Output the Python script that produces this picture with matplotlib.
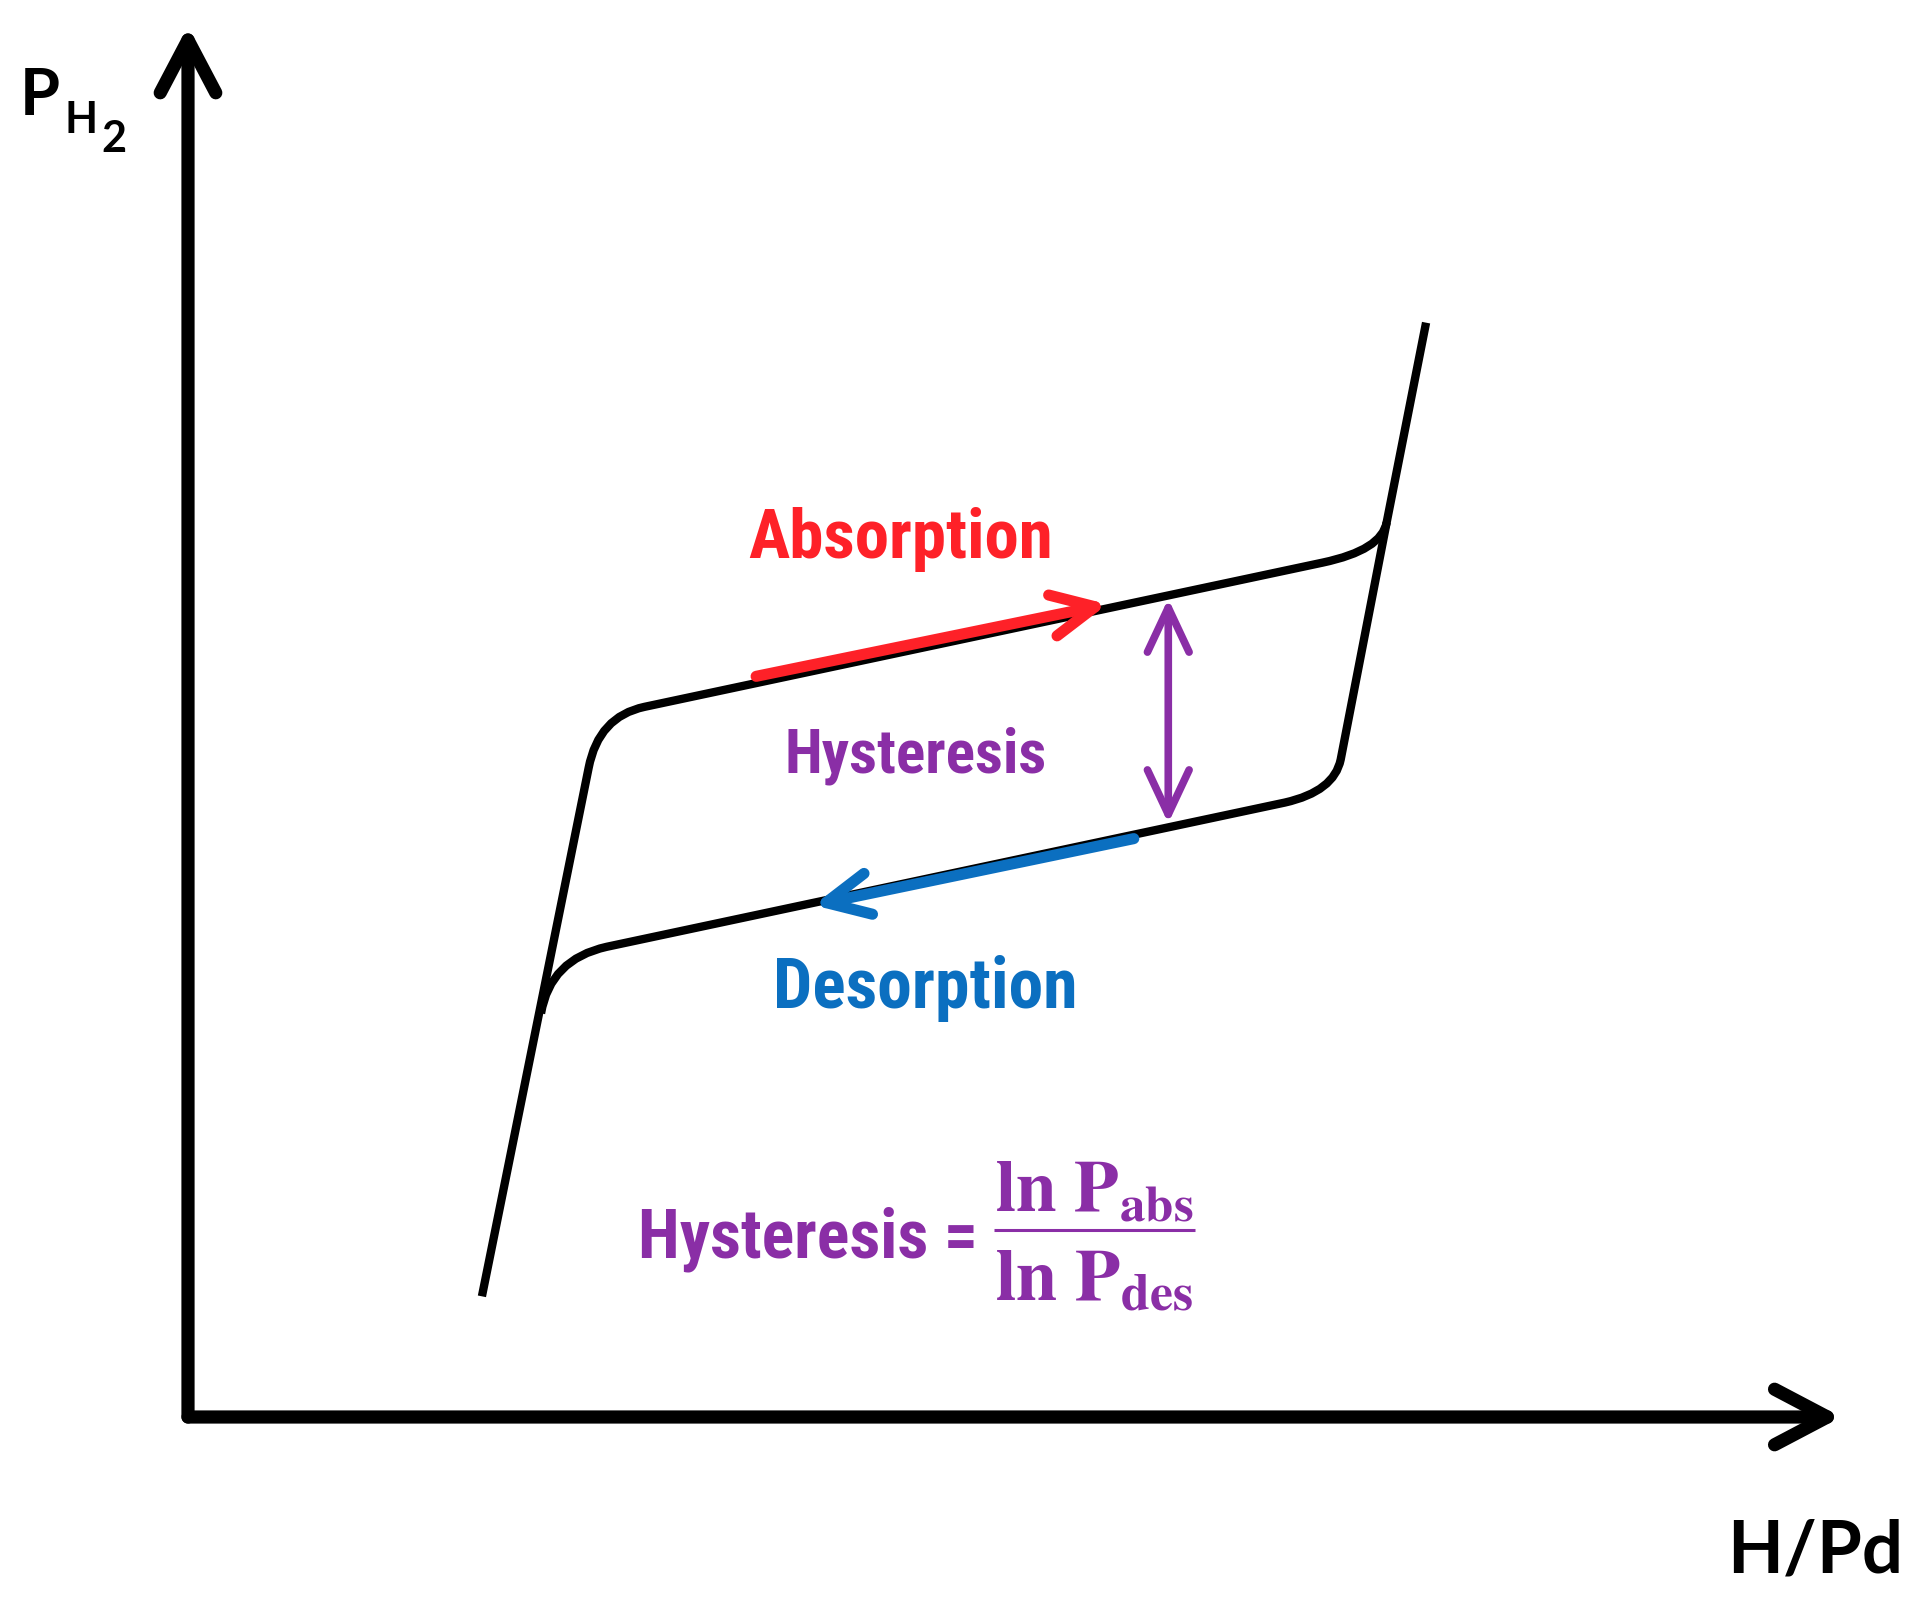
import matplotlib
matplotlib.use("Agg")
import matplotlib.pyplot as plt
from matplotlib import font_manager
from matplotlib.path import Path
from matplotlib.patches import PathPatch

# schematic pressure-composition isotherm, both axes in relative units (0-1)
# vertices; knees are quadratic curves through a corner control point
abs_x = [0.179, 0.244, 0.250, 0.278, 0.691, 0.727, 0.730, 0.754]
abs_y = [0.087, 0.468, 0.505, 0.512, 0.616, 0.625, 0.645, 0.789]
abs_codes = ["M", "L", "C", "C", "L", "C", "C", "L"]
des_x = [0.730, 0.702, 0.698, 0.668, 0.255, 0.2205, 0.215]
des_y = [0.645, 0.474, 0.451, 0.443, 0.339, 0.330, 0.291]
des_codes = ["M", "L", "C", "C", "L", "C", "C"]

absorb_arrow_x = [0.346, 0.560]
absorb_arrow_y = [0.534, 0.586]
desorb_arrow_x = [0.576, 0.381]
desorb_arrow_y = [0.417, 0.369]
hyst_arrow_x = [0.597, 0.597]
hyst_arrow_y = [0.590, 0.428]

RED = "#fe2128"
PURPLE = "#8a2ea6"
BLUE = "#0b6fc0"

installed = {f.name for f in font_manager.fontManager.ttflist}
narrow = [n for n in ["Liberation Sans Narrow", "Roboto Condensed", "Open Sans Condensed",
                      "DejaVu Sans Condensed"] if n in installed]
if narrow:
    COND = dict(family=narrow[0], weight="bold")
else:
    COND = dict(family="DejaVu Sans", stretch="condensed", weight="bold")

plt.rcParams["mathtext.fontset"] = "stix"

fig = plt.figure(figsize=(19.28, 16.07), dpi=100)
W, H = 1928, 1607
ax = fig.add_axes([188 / W, 1 - 1417 / H, 1642 / W, 1387 / H])
ax.set_xlim(0, 1)
ax.set_ylim(0, 1)
ax.axis("off")

# axes with arrow heads
for tip in [(0, 1.003), (1.007, 0)]:
    ax.annotate("", xy=tip, xytext=(0, 0), xycoords="axes fraction",
                arrowprops=dict(arrowstyle="->,head_length=3.8,head_width=2.0",
                                lw=9.5, color="black", shrinkA=0, shrinkB=0,
                                mutation_scale=10, capstyle="round"))

# isotherm branches
code_map = {"M": Path.MOVETO, "L": Path.LINETO, "C": Path.CURVE3}
for xs, ys, cs in [(abs_x, abs_y, abs_codes), (des_x, des_y, des_codes)]:
    p = Path(list(zip(xs, ys)), [code_map[c] for c in cs])
    ax.add_patch(PathPatch(p, fill=False, edgecolor="black", lw=6,
                           joinstyle="round", capstyle="butt"))

ax.annotate("", xy=(absorb_arrow_x[1], absorb_arrow_y[1]),
            xytext=(absorb_arrow_x[0], absorb_arrow_y[0]),
            arrowprops=dict(arrowstyle="->,head_length=3.1,head_width=1.5", lw=8,
                            color=RED, shrinkA=0, shrinkB=0, mutation_scale=10,
                            capstyle="round"))
ax.annotate("", xy=(desorb_arrow_x[1], desorb_arrow_y[1]),
            xytext=(desorb_arrow_x[0], desorb_arrow_y[0]),
            arrowprops=dict(arrowstyle="->,head_length=3.1,head_width=1.5", lw=8,
                            color=BLUE, shrinkA=0, shrinkB=0, mutation_scale=10,
                            capstyle="round"))
ax.annotate("", xy=(hyst_arrow_x[1], hyst_arrow_y[1]),
            xytext=(hyst_arrow_x[0], hyst_arrow_y[0]),
            arrowprops=dict(arrowstyle="<->,head_length=3.2,head_width=1.5", lw=5.5,
                            color=PURPLE, shrinkA=0, shrinkB=0, mutation_scale=10,
                            capstyle="round"))

renderer = fig.canvas.get_renderer()


def fit(t, width_px):
    w = t.get_window_extent(renderer).width
    t.set_fontsize(t.get_fontsize() * width_px / w)
    return t


fit(ax.text(0.434, 0.619, "Absorption", color=RED, ha="center", va="baseline",
            fontsize=50, **COND), 305)
fit(ax.text(0.443, 0.465, "Hysteresis", color=PURPLE, ha="center", va="baseline",
            fontsize=45, **COND), 262)
fit(ax.text(0.449, 0.295, "Desorption", color=BLUE, ha="center", va="baseline",
            fontsize=50, **COND), 305)

# formula
fit(ax.text(0.481, 0.115, "Hysteresis =", color=PURPLE, ha="right", va="baseline",
            fontsize=50, **COND), 340)
fit(ax.text(0.552, 0.1485, r"$\mathbf{ln\ P_{abs}}$", color=PURPLE, ha="center",
            va="baseline", fontsize=50), 199)
fit(ax.text(0.552, 0.0845, r"$\mathbf{ln\ P_{des}}$", color=PURPLE, ha="center",
            va="baseline", fontsize=50), 199)
frac_x = [0.491, 0.613]
frac_y = [0.135, 0.135]
ax.plot(frac_x, frac_y, color=PURPLE, lw=2.2, solid_capstyle="butt")

# axis labels
lab = dict(family="Lato", weight="bold", va="baseline", ha="left")
fit(fig.text(20 / W, 1 - 115 / H, "P", fontsize=57, **lab), 40)
fit(fig.text(64 / W, 1 - 133 / H, "H", fontsize=38, **lab), 33)
fit(fig.text(101 / W, 1 - 152 / H, "2", fontsize=38, **lab), 25)
fit(fig.text(1727 / W, 1 - 1573 / H, "H/Pd", fontsize=58, **lab), 176)

fig.savefig("out.png", dpi=100, facecolor="white")
